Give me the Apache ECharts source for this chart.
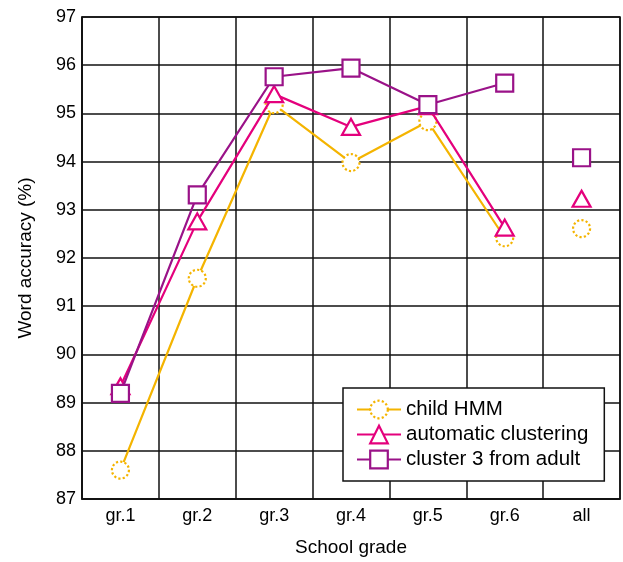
<!DOCTYPE html>
<html lang="en">
<head>
  <meta charset="UTF-8">
  <title>Word accuracy</title>
  <script src="https://cdn.jsdelivr.net/npm/echarts@6/dist/echarts.min.js"></script>
</head>
<body style="margin:0">
  <div id="main" style="width:623px;height:562px;"></div>
  <script>
    // data
    var grades = ["gr.1", "gr.2", "gr.3", "gr.4", "gr.5", "gr.6", "all"];
    var childHmm = [87.6, 91.58, 95.18, 93.98, 94.83, 92.42];
    var autoClust = [89.34, 92.76, 95.4, 94.72, 95.15, 92.63];
    var cluster3 = [89.19, 93.31, 95.76, 95.94, 95.18, 95.63];
    // the "all" column, drawn without a connecting line
    var allValues = [92.61, 93.23, 94.08];
    var names = ["child HMM", "automatic clustering", "cluster 3 from adult"];
    var colors = ["#f4b400", "#e4007c", "#9a1288"];
    var symbols = ["circle", "triangle", "rect"];
    var lines = [childHmm, autoClust, cluster3];

    var font = "Liberation Sans, Arial, sans-serif";

    function mkSeries(i, vals) {
      return {
        name: names[i],
        type: "line",
        data: vals,
        symbol: symbols[i],
        symbolSize: i == 1 ? [18, 16] : 17,
        showAllSymbol: true,
        lineStyle: {color: colors[i], width: 2.2},
        itemStyle: {color: "#fff", borderColor: colors[i], borderWidth: 2.2,
          borderType: i == 0 ? "dotted" : "solid"},
        z: 3 + i
      };
    }
    var series = [];
    lines.forEach(function (vals, i) { series.push(mkSeries(i, vals)); });
    allValues.forEach(function (v, i) {
      series.push(mkSeries(i, [null, null, null, null, null, null, v]));
    });

    var legendData = names.map(function (n, i) {
      return {name: n, itemStyle: {borderType: i == 0 ? "dotted" : "solid", borderWidth: 2.2}};
    });

    var chart = echarts.init(document.getElementById("main"));
    chart.setOption({
      animation: false,
      textStyle: {fontFamily: font},
      grid: {left: 82, right: 3, top: 17, bottom: 62, show: true,
        borderColor: "#111", borderWidth: 1.5},
      xAxis: {
        type: "category",
        data: grades,
        boundaryGap: true,
        name: "School grade",
        nameLocation: "middle",
        nameGap: 39,
        nameTextStyle: {fontSize: 19, color: "#000", fontFamily: font},
        axisLine: {lineStyle: {color: "#111", width: 1.5}},
        axisTick: {show: false},
        axisLabel: {fontSize: 18, color: "#000", margin: 8, fontFamily: font},
        splitLine: {show: true, lineStyle: {color: "#111", width: 1.5}}
      },
      yAxis: {
        type: "value",
        min: 87,
        max: 97,
        interval: 1,
        name: "Word accuracy (%)",
        nameLocation: "middle",
        nameGap: 47,
        nameTextStyle: {fontSize: 19, color: "#000", fontFamily: font},
        axisLine: {show: true, lineStyle: {color: "#111", width: 1.5}},
        axisTick: {show: false},
        axisLabel: {fontSize: 18, color: "#000", margin: 6, fontFamily: font},
        splitLine: {show: true, lineStyle: {color: "#111", width: 1.5}}
      },
      legend: {
        data: legendData,
        orient: "vertical",
        left: 343,
        top: 388,
        itemWidth: 44,
        itemHeight: 22,
        itemGap: 4,
        padding: [11, 16, 11, 13],
        backgroundColor: "#fff",
        borderColor: "#111",
        borderWidth: 1.5,
        borderRadius: 0,
        textStyle: {fontSize: 20.5, color: "#000", fontFamily: font}
      },
      series: series
    });
  </script>
</body>
</html>
